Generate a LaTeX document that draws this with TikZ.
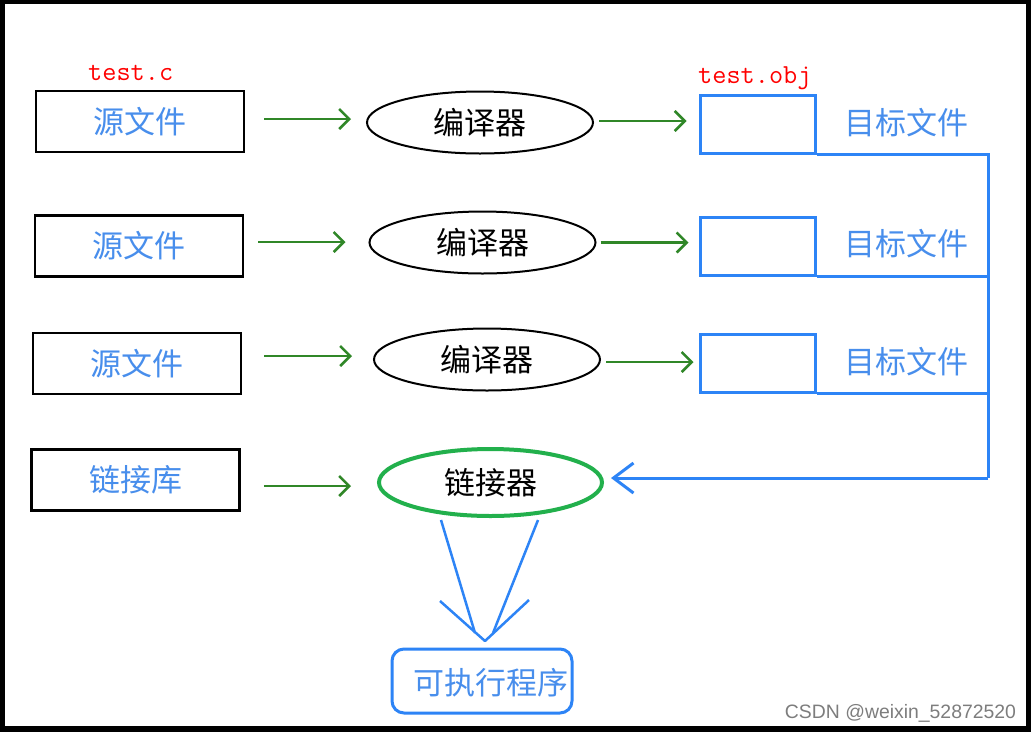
\documentclass[tikz,border=0pt]{standalone}
\usepackage{fontspec}
\setmainfont{Liberation Serif}
\newfontfamily\cjk{Noto Sans CJK SC}
\newfontfamily\wmf{Liberation Sans}
\usetikzlibrary{shapes.geometric,arrows.meta}
\definecolor{tblue}{RGB}{72,142,236}
\definecolor{lblue}{RGB}{45,132,246}
\definecolor{agreen}{RGB}{48,135,40}
\definecolor{egreen}{RGB}{34,176,76}
\definecolor{wmgray}{RGB}{125,125,125}
\tikzset{
  cjkfont/.style={font=\cjk\fontsize{31}{31}\selectfont},
  srcbox/.style={draw=black, line width=2.5pt, minimum width=208pt, minimum height=61pt, inner sep=0pt, cjkfont, text=tblue},
  comp/.style={ellipse, draw=black, line width=2pt, minimum width=226pt, minimum height=62pt, inner sep=0pt, cjkfont, text=black},
  objbox/.style={draw=lblue, line width=3pt, minimum width=115pt, minimum height=58pt, inner sep=0pt},
  objlabel/.style={cjkfont, text=tblue, inner sep=0pt},
  redlabel/.style={font=\ttfamily\fontsize{27.5}{27.5}\selectfont, text=red, anchor=base west, inner sep=0pt},
  garrow/.style={draw=agreen, line width=2.5pt, -{Straight Barb[length=10pt,width=20pt]}},
  bline/.style={draw=lblue, line width=3pt},
  barrow/.style={draw=lblue, line width=3pt, -{Straight Barb[length=20pt,width=30pt]}},
  exebox/.style={draw=lblue, line width=3pt, rounded corners=12pt, minimum width=180pt, minimum height=64pt, inner sep=0pt},
}
\begin{document}
\begin{tikzpicture}[x=1pt,y=-1pt]
\useasboundingbox (0,0) rectangle (1031,732);
\fill[black] (0,0) rectangle (1031,732);
\fill[white] (5,4) rectangle (1026,726);

% source boxes
\node[srcbox] (s1) at (140,121.5) {源文件};
\node[srcbox] (s2) at (139,246) {源文件};
\node[srcbox] (s3) at (137,363.5) {源文件};
\node[srcbox] (s4) at (135.5,480) {链接库};

\node[redlabel] (tc) at (88,80) {test.c};
\node[redlabel] (tobj) at (698,83) {test.obj};

% compilers
\node[comp] (e1) at (480,122.5) {编译器};
\node[comp] (e2) at (482.5,242.5) {编译器};
\node[comp] (e3) at (487,359.5) {编译器};
\node[comp, draw=egreen, line width=4pt, minimum width=223pt, minimum height=67pt] (lk) at (490.5,482.5) {链接器};

% object boxes
\node[objbox] (o1) at (757.5,124) {};
\node[objbox] (o2) at (757.5,246) {};
\node[objbox] (o3) at (757.5,363) {};
\node[objlabel] (l1) at (906,123) {目标文件};
\node[objlabel] (l2) at (906,244) {目标文件};
\node[objlabel] (l3) at (906,362) {目标文件};

% green arrows
\draw[garrow, shorten <=19pt, shorten >=15pt] ([yshift=2.5pt]s1.east) -- ([yshift=2.5pt]s1.east -| e1.west);
\draw[garrow, shorten <=14pt, shorten >=23pt] ([yshift=4pt]s2.east) -- ([yshift=4pt]s2.east -| e2.west);
\draw[garrow, shorten <=22pt, shorten >=21pt] ([yshift=7.5pt]s3.east) -- ([yshift=7.5pt]s3.east -| e3.west);
\draw[garrow, shorten <=23pt, shorten >=26pt] ([yshift=-6pt]s4.east) -- ([yshift=-6pt]s4.east -| lk.west);
\draw[garrow, shorten <=5pt, shorten >=12pt] ([yshift=1.5pt]e1.east) -- ([yshift=1.5pt]e1.east -| o1.west);
\draw[garrow, shorten <=4pt, shorten >=10pt] (e2.east) -- (e2.east -| o2.west);
\draw[garrow, shorten <=5pt, shorten >=5pt] ([yshift=-2.5pt]e3.east) -- ([yshift=-2.5pt]e3.east -| o3.west);

% bus to linker
\coordinate (bt) at (988,152);
\coordinate (bb) at (988,478);
\draw[bline] (o1.south east) -- (o1.south east -| bt) -- (bb);
\draw[bline] (o2.south east) -- (o2.south east -| bt);
\draw[bline] (o3.south east) -- (o3.south east -| bt);
\draw[barrow, shorten >=7pt] (bb) -- (bb -| lk.east);

% linker to executable
\coordinate (la) at (441,520);
\coordinate (lb) at (475,633);
\coordinate (ra) at (538,520);
\coordinate (rb) at (493,633);
\coordinate (vl) at (440,601);
\coordinate (apex) at (485,641);
\coordinate (vr) at (529,600);
\draw[bline, line width=2.5pt] (la) -- (lb);
\draw[bline, line width=2.5pt] (ra) -- (rb);
\draw[bline, line width=2.5pt, line join=round] (vl) -- (apex) -- (vr);

\node[exebox] (exe) at (482,681) {};
\node[cjkfont, text=tblue, inner sep=0pt] (exet) at (491,683) {可执行程序};

\node[font=\wmf\fontsize{19.4}{19.4}\selectfont, text=wmgray, inner sep=0pt] (wm) at (900.5,713) {CSDN @weixin\_52872520};
\end{tikzpicture}
\end{document}
